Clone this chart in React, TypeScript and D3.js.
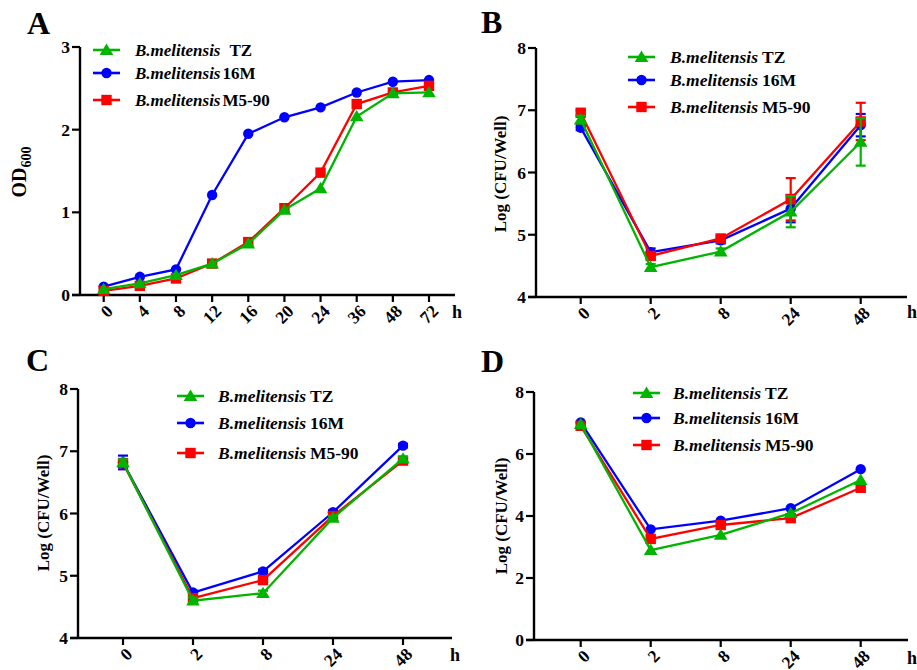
import React from "react";
import * as d3 from "d3";

const seriesNames = ["TZ", "16M", "M5-90"];
const seriesColors = ["#00b400", "#0000ff", "#ff0000"];
const seriesShapes = ["triangle", "circle", "square"];

// Panel A
const catsA = ["0", "4", "8", "12", "16", "20", "24", "36", "48", "72"];
const aTZ = [0.07, 0.14, 0.24, 0.38, 0.62, 1.03, 1.29, 2.16, 2.44, 2.45];
const a16M = [0.1, 0.22, 0.31, 1.21, 1.95, 2.15, 2.27, 2.45, 2.58, 2.6];
const aM590 = [0.05, 0.11, 0.2, 0.38, 0.64, 1.05, 1.48, 2.31, 2.45, 2.53];
const ticksA = [0, 1, 2, 3];

// Panels B-D
const catsB = ["0", "2", "8", "24", "48"];
const bTZ = [6.85, 4.48, 4.73, 5.37, 6.49];
const b16M = [6.72, 4.72, 4.91, 5.42, 6.76];
const bM590 = [6.96, 4.66, 4.94, 5.57, 6.82];
const bErrTZ = [0.06, 0.05, 0.05, 0.25, 0.38];
const bErr16M = [0.04, 0.06, 0.05, 0.22, 0.18];
const bErrM590 = [0.04, 0.05, 0.05, 0.34, 0.3];
const ticksB = [4, 5, 6, 7, 8];

const cTZ = [6.82, 4.6, 4.72, 5.93, 6.88];
const c16M = [6.82, 4.73, 5.07, 6.02, 7.09];
const cM590 = [6.81, 4.64, 4.93, 5.96, 6.85];
const cErrTZ = [0.05, 0.05, 0.04, 0.03, 0.03];
const cErr16M = [0.11, 0.03, 0.03, 0.03, 0.03];
const cErrM590 = [0.06, 0.04, 0.04, 0.03, 0.03];
const ticksC = [4, 5, 6, 7, 8];

const dTZ = [6.96, 2.9, 3.39, 4.09, 5.16];
const d16M = [7.02, 3.57, 3.85, 4.25, 5.51];
const dM590 = [6.91, 3.26, 3.71, 3.93, 4.91];
const ticksD = [0, 2, 4, 6, 8];

const FONT = "'Liberation Serif', 'Times New Roman', serif";

type PanelCfg = {
  label: string;
  labelX: number;
  labelY: number;
  axisX: number;
  axisRight: number;
  yTop: number;
  yBottom: number;
  domain: [number, number];
  ticks: number[];
  cats: string[];
  xFirst: number;
  xLast: number;
  series: number[][];
  errs?: number[][];
  title: "OD" | "LOG";
  titleX: number;
  titleY: number;
  legendX: number;
  legendY: number[];
  legendTextX: number;
  legendFont: number;
  hX: number;
  hY: number;
};

function Marker({ shape, x, y, color }: { shape: string; x: number; y: number; color: string }) {
  if (shape === "circle") return <circle cx={x} cy={y} r={5.2} fill={color} />;
  if (shape === "square") return <rect x={x - 5.2} y={y - 5.2} width={10.4} height={10.4} fill={color} />;
  const s = 6.5;
  return (
    <path
      d={`M${x},${y - s}L${x + s * 1.05},${y + s * 0.75}L${x - s * 1.05},${y + s * 0.75}Z`}
      fill={color}
    />
  );
}

function Panel({ cfg }: { cfg: PanelCfg }) {
  const x = d3.scalePoint<string>().domain(cfg.cats).range([cfg.xFirst, cfg.xLast]);
  const y = d3.scaleLinear().domain(cfg.domain).range([cfg.yBottom, cfg.yTop]);
  const line = d3
    .line<number>()
    .x((_, i) => x(cfg.cats[i]) as number)
    .y((d) => y(d));
  const order = [1, 2, 0];
  return (
    <g fontFamily={FONT} fontWeight="bold">
      <text x={cfg.labelX} y={cfg.labelY} fontSize={32} fill="#000">
        {cfg.label}
      </text>
      {/* axes */}
      <line x1={cfg.axisX} x2={cfg.axisX} y1={cfg.yTop} y2={cfg.yBottom} stroke="#000" strokeWidth={2.4} />
      <line x1={cfg.axisX - 8} x2={cfg.axisRight} y1={cfg.yBottom} y2={cfg.yBottom} stroke="#000" strokeWidth={2.4} />
      {cfg.ticks.map((t) => (
        <g key={t}>
          <line x1={cfg.axisX - 8} x2={cfg.axisX} y1={y(t)} y2={y(t)} stroke="#000" strokeWidth={2.2} />
          <text x={cfg.axisX - 10} y={y(t)} dy="0.35em" textAnchor="end" fontSize={17.5}>
            {t}
          </text>
        </g>
      ))}
      {cfg.cats.map((c) => (
        <g key={c}>
          <line x1={x(c)} x2={x(c)} y1={cfg.yBottom} y2={cfg.yBottom + 7} stroke="#000" strokeWidth={2.2} />
          <text
            transform={`translate(${(x(c) as number) + 6},${cfg.yBottom + 13}) rotate(-45)`}
            textAnchor="end"
            dy="0.35em"
            fontSize={17.5}
          >
            {c}
          </text>
        </g>
      ))}
      <text x={cfg.hX} y={cfg.hY} fontSize={18}>
        h
      </text>
      {cfg.title === "OD" ? (
        <text transform={`translate(${cfg.titleX},${cfg.titleY}) rotate(-90)`} textAnchor="middle" fontSize={20}>
          OD<tspan fontSize={14} dy="5">600</tspan>
        </text>
      ) : (
        <text
          transform={`translate(${cfg.titleX},${cfg.titleY}) rotate(-90)`}
          textAnchor="middle"
          dy="0.35em"
          fontSize={17}
        >
          Log (CFU/Well)
        </text>
      )}
      {/* series */}
      {order.map((si) => {
        const vals = cfg.series[si];
        const errs = cfg.errs ? cfg.errs[si] : null;
        const col = seriesColors[si];
        return (
          <g key={si}>
            <path d={line(vals) || ""} fill="none" stroke={col} strokeWidth={2.3} />
            {errs &&
              vals.map((v, i) => {
                const cx = x(cfg.cats[i]) as number;
                return (
                  <g key={i} stroke={col} strokeWidth={2.2}>
                    <line x1={cx} x2={cx} y1={y(v - errs[i])} y2={y(v + errs[i])} />
                    <line x1={cx - 5} x2={cx + 5} y1={y(v + errs[i])} y2={y(v + errs[i])} />
                    <line x1={cx - 5} x2={cx + 5} y1={y(v - errs[i])} y2={y(v - errs[i])} />
                  </g>
                );
              })}
            {vals.map((v, i) => (
              <Marker key={i} shape={seriesShapes[si]} x={x(cfg.cats[i]) as number} y={y(v)} color={col} />
            ))}
          </g>
        );
      })}
      {/* legend */}
      {seriesNames.map((n, i) => (
        <g key={n}>
          <line
            x1={cfg.legendX}
            x2={cfg.legendX + 27}
            y1={cfg.legendY[i]}
            y2={cfg.legendY[i]}
            stroke={seriesColors[i]}
            strokeWidth={2.6}
          />
          <Marker shape={seriesShapes[i]} x={cfg.legendX + 13.5} y={cfg.legendY[i]} color={seriesColors[i]} />
          <text x={cfg.legendTextX} y={cfg.legendY[i]} dy="0.35em" fontSize={cfg.legendFont}>
            <tspan fontStyle="italic">B.melitensis</tspan>
            {cfg.title === "OD" ? (
              <tspan dx={i === 0 ? 9 : 2}>{n}</tspan>
            ) : (
              <tspan dx={4}>{n}</tspan>
            )}
          </text>
        </g>
      ))}
    </g>
  );
}

const panels: PanelCfg[] = [
  {
    label: "A", labelX: 27, labelY: 34, axisX: 80, axisRight: 455, yTop: 47, yBottom: 295,
    domain: [0, 3], ticks: ticksA, cats: catsA, xFirst: 103.7, xLast: 429,
    series: [aTZ, a16M, aM590], title: "OD", titleX: 26, titleY: 172,
    legendX: 93, legendY: [50, 73, 100], legendTextX: 135, legendFont: 17, hX: 452, hY: 318,
  },
  {
    label: "B", labelX: 481, labelY: 33, axisX: 536, axisRight: 907, yTop: 48, yBottom: 297,
    domain: [4, 8], ticks: ticksB, cats: catsB, xFirst: 580.7, xLast: 860.7,
    series: [bTZ, b16M, bM590], errs: [bErrTZ, bErr16M, bErrM590], title: "LOG", titleX: 500, titleY: 174,
    legendX: 628, legendY: [57, 80, 107], legendTextX: 670, legendFont: 17.5, hX: 907, hY: 318,
  },
  {
    label: "C", labelX: 26, labelY: 371, axisX: 78, axisRight: 452, yTop: 389, yBottom: 638,
    domain: [4, 8], ticks: ticksC, cats: catsB, xFirst: 123, xLast: 403,
    series: [cTZ, c16M, cM590], errs: [cErrTZ, cErr16M, cErrM590], title: "LOG", titleX: 43, titleY: 513,
    legendX: 177, legendY: [396, 423, 453], legendTextX: 218, legendFont: 17.5, hX: 450, hY: 661,
  },
  {
    label: "D", labelX: 481, labelY: 372, axisX: 534, axisRight: 908, yTop: 392, yBottom: 640,
    domain: [0, 8], ticks: ticksD, cats: catsB, xFirst: 580.7, xLast: 860.7,
    series: [dTZ, d16M, dM590], title: "LOG", titleX: 501, titleY: 516,
    legendX: 633, legendY: [393, 418, 445], legendTextX: 673, legendFont: 17.5, hX: 907, hY: 664,
  },
];

export default function App() {
  return (
    <svg width={917} height={670} style={{ position: "absolute", left: 0, top: 0 }}>
      <rect width={917} height={670} fill="#fff" />
      {panels.map((p) => (
        <Panel key={p.label} cfg={p} />
      ))}
    </svg>
  );
}
